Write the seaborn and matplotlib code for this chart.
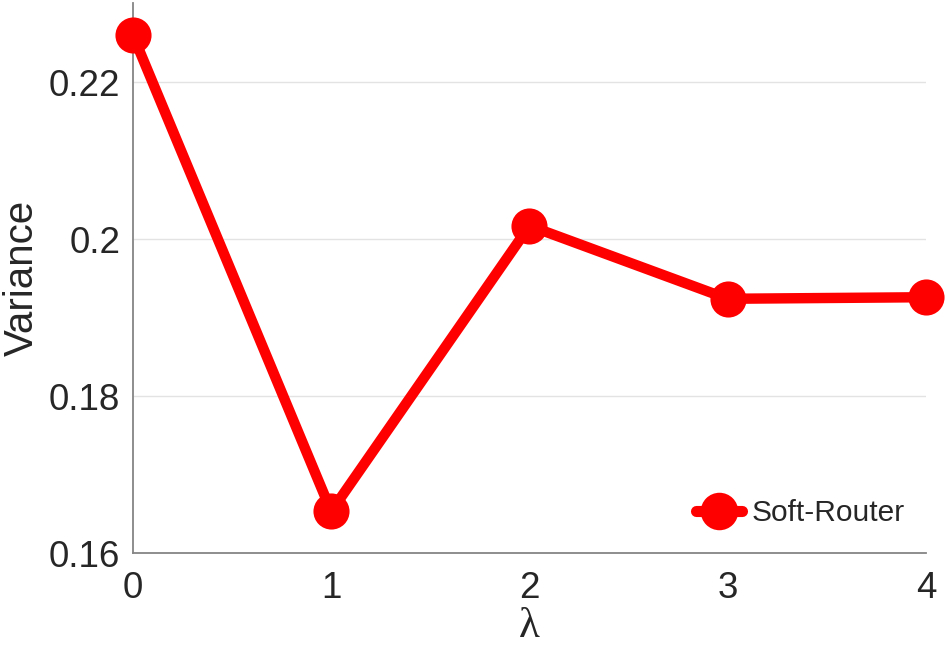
import matplotlib
matplotlib.use("Agg")
import matplotlib.pyplot as plt
import seaborn as sns
import pandas as pd

lambdas = [0, 1, 2, 3, 4]
variance = [0.2260, 0.1653, 0.2017, 0.1924, 0.1926]
series_name = "Soft-Router"
y_ticks = [0.16, 0.18, 0.20, 0.22]
y_tick_labels = ["0.16", "0.18", "0.2", "0.22"]
x_ticks = [0, 1, 2, 3, 4]

sns.set_theme(style="white")
plt.rcParams['font.family'] = ['Liberation Sans', 'DejaVu Sans']

df = pd.DataFrame({"lambda": lambdas, "variance": variance, "series": series_name})

fig = plt.figure(figsize=(9.47, 6.48), dpi=100)
ax = fig.add_axes([0.1404, 0.1466, 0.9778 - 0.1404, 0.9954 - 0.1466])

sns.lineplot(data=df, x="lambda", y="variance", hue="series", palette=["#FF0000"],
             marker="o", markersize=26, linewidth=7.5, markeredgewidth=0,
             ax=ax, clip_on=False, zorder=5)

ax.set_xlim(0, 4)
ax.set_ylim(0.16, 0.2301)
ax.set_xticks(x_ticks)
ax.set_xticklabels([str(v) for v in x_ticks])
ax.set_yticks(y_ticks)
ax.set_yticklabels(y_tick_labels)

ax.yaxis.grid(True, color="#e3e3e3", linewidth=1)
ax.xaxis.grid(False)
ax.set_axisbelow(True)

for s in ["top", "right"]:
    ax.spines[s].set_visible(False)
for s in ["left", "bottom"]:
    ax.spines[s].set_color("#858585")
    ax.spines[s].set_linewidth(1.3)

ax.tick_params(axis="both", direction="in", length=5, width=1, color="#555555",
               labelsize=26.5, labelcolor="#262626", pad=9)
ax.tick_params(axis="x", pad=13)

ax.set_xlabel("λ", fontsize=31, color="#262626", labelpad=1,
              family=["Liberation Serif", "DejaVu Serif"])
ax.set_ylabel("Variance", fontsize=29, color="#262626", labelpad=6)

leg = ax.legend(loc="lower right", frameon=False, fontsize=21.5,
                handlelength=1.55, handletextpad=0.3, borderaxespad=0.0,
                bbox_to_anchor=(0.988, 0.025))
for h in leg.legend_handles:
    h.set_linewidth(8)
    h.set_markersize(27)

fig.savefig("out.png", dpi=100)
